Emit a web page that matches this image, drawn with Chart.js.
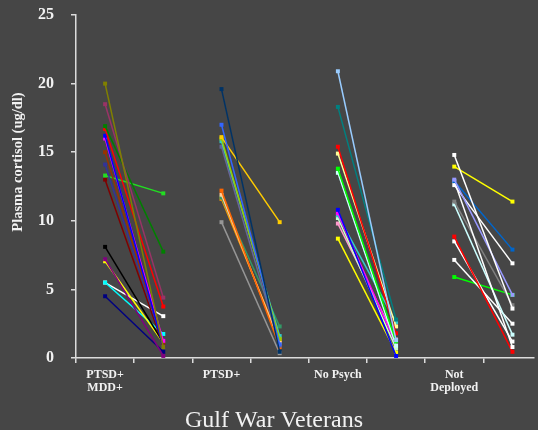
<!DOCTYPE html>
<html>
<head>
<meta charset="utf-8">
<script src="https://cdn.jsdelivr.net/npm/chart.js@4"></script>
<style>
  html, body { margin: 0; padding: 0; background: #464646; overflow: hidden; }
  #wrap { width: 538px; height: 430px; }
</style>
</head>
<body>
<div id="wrap"><canvas id="chart" width="538" height="430"></canvas></div>
<script>
const groupLabels = [['PTSD+', 'MDD+'], ['PTSD+'], ['No Psych'], ['Not', 'Deployed']];
const yTicks = [0, 5, 10, 15, 20, 25];

// pre / post cortisol, one entry per subject
const ptsdMddPre = [20.0, 18.5, 16.9, 16.7, 16.2, 16.0, 15.0, 14.1, 13.3, 13.0, 8.1, 7.2, 7.05, 5.5, 5.5, 4.5];
const ptsdMddPost = [0.8, 4.4, 7.75, 3.75, 0.8, 1.25, 1.0, 1.0, 12.0, 0.9, 1.1, 0.15, 1.1, 1.75, 3.05, 0.45];
const ptsdPre = [19.6, 17.0, 16.1, 16.0, 15.8, 15.4, 12.2, 11.9, 11.7, 11.6, 9.9];
const ptsdPost = [0.45, 1.0, 9.9, 1.4, 1.6, 0.9, 0.8, 1.1, 2.3, 1.3, 0.35];
const noPsychPre = [20.9, 18.3, 15.4, 14.9, 13.8, 13.5, 10.8, 10.55, 10.4, 10.2, 9.8, 8.7];
const noPsychPost = [1.3, 2.8, 1.8, 2.3, 1.2, 0.9, 0.15, 1.0, 2.6, 0.7, 1.35, 0.4];
const notDeployedPre = [14.8, 13.95, 13.0, 12.9, 12.9, 12.6, 11.4, 11.2, 8.85, 8.5, 7.15, 5.9];
const notDeployedPost = [3.6, 11.4, 4.6, 7.9, 0.8, 6.9, 3.85, 1.7, 0.45, 1.2, 2.5, 4.6];

const ptsdMddColors = ['#808000', '#993366', '#008000', '#ff0000', '#0000ff', '#ff00ff', '#993300', '#333399',
  '#22dd22', '#800000', '#000000', '#800080', '#ffff00', '#00ffff', '#ffffff', '#000080'];
const ptsdColors = ['#003366', '#3366ff', '#ffcc00', '#99cc00', '#33cccc', '#666699', '#ff6600', '#ffcc99',
  '#339966', '#ff9900', '#969696'];
const noPsychColors = ['#99ccff', '#008080', '#ff0000', '#ffff99', '#00ff00', '#ccffff', '#0000ff', '#ff00ff',
  '#33cccc', '#ccffcc', '#ff99cc', '#ffff00'];
const notDeployedColors = ['#ffffff', '#ffff00', '#9999ff', '#0066cc', '#ffffff', '#ffffff', '#808080', '#ccffff',
  '#ff0000', '#ffffff', '#ffffff', '#00ff00'];

const groups = [
  { pre: ptsdMddPre, post: ptsdMddPost, colors: ptsdMddColors },
  { pre: ptsdPre, post: ptsdPost, colors: ptsdColors },
  { pre: noPsychPre, post: noPsychPost, colors: noPsychColors },
  { pre: notDeployedPre, post: notDeployedPost, colors: notDeployedColors },
];

const serif = "'Liberation Serif', 'Times New Roman', serif";
const axisColor = '#dcdcdc';
const textColor = '#f2f2f2';

const datasets = [];
groups.forEach((g, gi) => {
  g.pre.forEach((v, i) => {
    datasets.push({
      data: [{ x: gi * 2 + 0.5, y: v }, { x: gi * 2 + 1.5, y: g.post[i] }],
      borderColor: g.colors[i],
      backgroundColor: g.colors[i],
      borderWidth: 1.5,
      pointStyle: 'rect',
      pointRadius: 2.8,
      pointBorderWidth: 0,
    });
  });
});

const labelAt = { 0.5: groupLabels[0], 2.5: groupLabels[1], 4.5: groupLabels[2], 6.5: groupLabels[3] };

// y title drawn by hand: in the original it sits above the axis middle
const yTitle = {
  id: 'yTitle',
  afterDraw(chart) {
    const ctx = chart.ctx;
    ctx.save();
    ctx.translate(18, 162);
    ctx.rotate(-Math.PI / 2);
    ctx.fillStyle = textColor;
    ctx.font = `bold 14.5px ${serif}`;
    ctx.textAlign = 'center';
    ctx.textBaseline = 'middle';
    ctx.fillText('Plasma cortisol (ug/dl)', 0, 0);
    ctx.restore();
  },
};

new Chart(document.getElementById('chart').getContext('2d'), {
  type: 'line',
  data: { datasets },
  plugins: [yTitle],
  options: {
    responsive: false,
    animation: false,
    layout: { padding: { left: 10, right: 0, top: 15, bottom: 0 } },
    plugins: {
      legend: { display: false },
      tooltip: { enabled: false },
      title: {
        display: true,
        position: 'bottom',
        text: 'Gulf War Veterans',
        color: textColor,
        font: { family: serif, size: 24, weight: 'normal', lineHeight: 1 },
        padding: { top: 7, bottom: -3 },
      },
    },
    scales: {
      x: {
        type: 'linear',
        min: 0,
        max: 7.87,
        afterBuildTicks: (scale) => {
          const t = [];
          for (let v = 0; v <= 7.5; v += 0.5) t.push({ value: v });
          scale.ticks = t;
        },
        afterFit: (scale) => { scale.height = 44; scale.paddingLeft = 0; scale.paddingRight = 0; },
        border: { color: axisColor, width: 1.5 },
        grid: {
          drawOnChartArea: false,
          tickLength: 5,
          lineWidth: 1.5,
          color: (ctx) => (ctx.tick && Number.isInteger(ctx.tick.value) ? axisColor : 'rgba(0,0,0,0)'),
        },
        ticks: {
          autoSkip: false,
          maxRotation: 0,
          padding: 5,
          color: textColor,
          font: { family: serif, size: 12, weight: 'bold', lineHeight: 1.1 },
          callback: (v) => labelAt[v] || '',
        },
      },
      y: {
        min: 0,
        max: 25,
        afterBuildTicks: (scale) => { scale.ticks = yTicks.map((v) => ({ value: v })); },
        afterFit: (scale) => { scale.width = 66; scale.paddingTop = 0; scale.paddingBottom = 0; },
        border: { color: axisColor, width: 1.5 },
        grid: { drawOnChartArea: false, tickLength: 5, lineWidth: 1.5, color: axisColor },
        ticks: {
          padding: 17,
          color: textColor,
          font: { family: serif, size: 16, weight: 'bold' },
        },
      },
    },
  },
});
</script>
</body>
</html>
